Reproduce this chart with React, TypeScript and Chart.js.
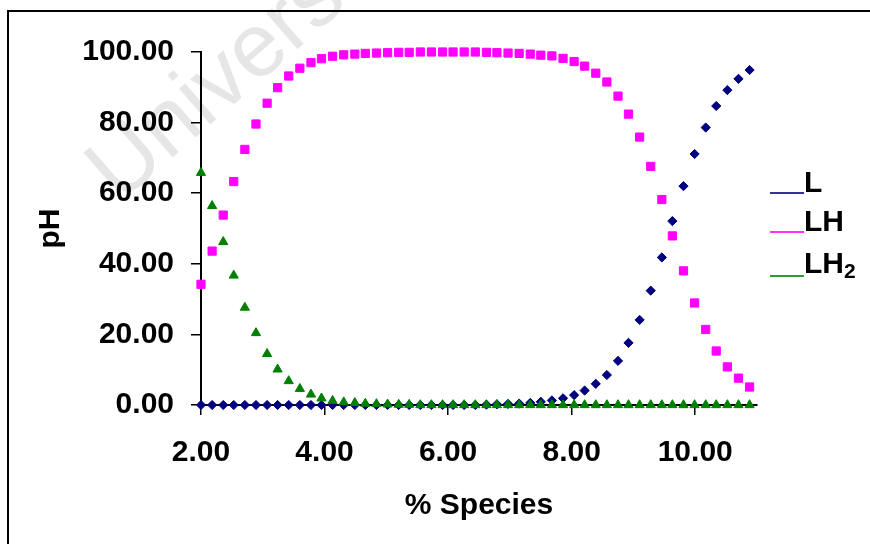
import React, { useEffect, useRef } from 'react';
import { Chart, registerables } from 'chart.js';

Chart.register(...registerables);

const FONT = '"Liberation Sans", Arial, sans-serif';

const pH = [
  2.0, 2.18, 2.36, 2.53, 2.71, 2.89, 3.07, 3.24, 3.42, 3.6, 3.78, 3.95, 4.13, 4.31, 4.49, 4.66, 4.84,
  5.02, 5.2, 5.37, 5.55, 5.73, 5.91, 6.08, 6.26, 6.44, 6.62, 6.79, 6.97, 7.15, 7.33, 7.5, 7.68, 7.86,
  8.04, 8.21, 8.39, 8.57, 8.75, 8.92, 9.1, 9.28, 9.46, 9.63, 9.81, 9.99, 10.17, 10.34, 10.52, 10.7, 10.88,
];

const speciesL = [
  0, 0, 0, 0, 0, 0, 0, 0, 0, 0, 0, 0, 0, 0, 0, 0, 0, 0, 0, 0, 0, 0, 0, 0, 0, 0,
  0.1, 0.2, 0.3, 0.4, 0.6, 0.9, 1.3, 1.9, 2.8, 4.1, 6.0, 8.5, 12.5, 17.6, 24.1, 32.4, 41.8, 52.1,
  62.0, 71.1, 78.6, 84.7, 89.2, 92.4, 94.9,
];

const speciesLH = [
  34.2, 43.6, 53.8, 63.3, 72.4, 79.6, 85.5, 89.9, 93.2, 95.4, 97.0, 98.1, 98.8, 99.2, 99.4, 99.6, 99.7,
  99.8, 99.9, 99.9, 100.0, 100.0, 100.0, 100.0, 100.0, 100.0, 99.9, 99.8, 99.7, 99.6, 99.4, 99.1,
  98.9, 98.2, 97.3, 96.0, 94.0, 91.5, 87.5, 82.4, 75.9, 67.6, 58.2, 47.9, 38.0, 28.9, 21.4, 15.3,
  10.8, 7.6, 5.1,
];

const speciesLH2 = [
  65.8, 56.4, 46.2, 36.7, 27.6, 20.4, 14.5, 10.1, 6.8, 4.6, 3.0, 1.9, 1.2, 0.8, 0.6, 0.4, 0.3, 0.2,
  0.1, 0.1, 0, 0, 0, 0, 0, 0, 0, 0, 0, 0, 0, 0, 0, 0, 0, 0, 0, 0, 0, 0, 0, 0, 0, 0, 0, 0, 0, 0, 0, 0, 0,
];

const seriesNames = ['L', 'LH', 'LH₂'];
const markerColors = ['#000080', '#ff00ff', '#008000'];
const legendLineColors = ['#333399', '#ff33ff', '#339933'];
const xTitle = '% Species';
const yTitle = 'pH';
const watermark = 'University';

export default function App() {
  const ref = useRef<HTMLCanvasElement>(null);

  useEffect(() => {
    const canvas = ref.current;
    if (!canvas) return;
    const mk = (vals: number[]) => pH.map((x, i) => ({ x, y: vals[i] }));
    const font = { family: FONT, size: 30, weight: 'bold' as const };

    const framePlugin = {
      id: 'frame',
      beforeDraw(chart: any) {
        const ctx = chart.ctx;
        ctx.save();
        ctx.fillStyle = '#ffffff';
        ctx.fillRect(0, 0, chart.width, chart.height);
        // watermark
        ctx.translate(119, 204);
        ctx.rotate((-41 * Math.PI) / 180);
        ctx.font = `90px ${FONT}`;
        ctx.fillStyle = '#e6e6e6';
        ctx.textBaseline = 'alphabetic';
        ctx.fillText(watermark, 0, 0);
        ctx.restore();
        ctx.save();
        ctx.fillStyle = '#000';
        ctx.fillRect(7, 10, 2, chart.height);
        ctx.fillRect(7, 10, chart.width, 2);
        ctx.restore();
      },
      afterDraw(chart: any) {
        const ctx = chart.ctx;
        const baselines = [192, 231, 273];
        const lineYs = [193, 232, 276];
        ctx.save();
        chart.data.datasets.forEach((ds: any, i: number) => {
          ctx.fillStyle = legendLineColors[i];
          ctx.fillRect(770, lineYs[i] - 1, 34, 2);
          ctx.fillStyle = '#000';
          ctx.textBaseline = 'alphabetic';
          ctx.textAlign = 'left';
          ctx.font = `bold 30px ${FONT}`;
          const label: string = ds.label;
          const subIdx = label.indexOf('₂');
          if (subIdx >= 0) {
            const main = label.slice(0, subIdx);
            ctx.fillText(main, 804, baselines[i]);
            const w = ctx.measureText(main).width;
            ctx.font = `bold 21px ${FONT}`;
            ctx.fillText('2', 804 + w, baselines[i] + 5);
          } else {
            ctx.fillText(label, 804, baselines[i]);
          }
        });
        ctx.restore();
      },
    };

    const chart = new Chart(canvas, {
      type: 'scatter',
      data: {
        datasets: [
          {
            label: seriesNames[0],
            data: mk(speciesL),
            pointStyle: 'rectRot',
            pointRadius: 4.6,
            backgroundColor: markerColors[0],
            borderColor: markerColors[0],
            borderWidth: 1,
            order: 3,
            clip: false as any,
          },
          {
            label: seriesNames[1],
            data: mk(speciesLH),
            pointStyle: 'rect',
            pointRadius: 5.8,
            backgroundColor: markerColors[1],
            borderColor: markerColors[1],
            borderWidth: 1,
            order: 2,
            clip: false as any,
          },
          {
            label: seriesNames[2],
            data: mk(speciesLH2),
            pointStyle: 'triangle',
            pointRadius: 5.3,
            backgroundColor: markerColors[2],
            borderColor: markerColors[2],
            borderWidth: 1,
            order: 1,
            clip: false as any,
          },
        ],
      },
      options: {
        animation: false,
        responsive: false,
        events: [],
        layout: { padding: { left: 0, top: 52, right: 113, bottom: 0 } },
        plugins: { legend: { display: false }, tooltip: { enabled: false } },
        scales: {
          x: {
            type: 'linear',
            min: 2,
            max: 11,
            afterFit: (s: any) => {
              s.height = 139;
            },
            ticks: {
              stepSize: 2,
              includeBounds: false,
              color: '#000',
              font,
              padding: 20,
              maxRotation: 0,
              autoSkip: false,
              callback: (v: any) => Number(v).toFixed(2),
            },
            grid: { drawOnChartArea: false, drawTicks: true, tickLength: 10, color: '#000', lineWidth: 1.5 },
            border: { display: true, color: '#000', width: 2 },
            title: { display: true, text: xTitle, color: '#000', font, padding: { top: 0, bottom: 20 } },
          },
          y: {
            type: 'linear',
            min: 0,
            max: 100,
            afterFit: (s: any) => {
              s.width = 201;
            },
            ticks: {
              stepSize: 20,
              color: '#000',
              font,
              padding: 17,
              callback: (v: any) => Number(v).toFixed(2),
            },
            grid: { drawOnChartArea: false, drawTicks: true, tickLength: 10, color: '#000', lineWidth: 1.5 },
            border: { display: true, color: '#000', width: 2 },
            title: { display: true, text: yTitle, color: '#000', font, padding: { top: 33, bottom: 0 } },
          },
        },
      } as any,
      plugins: [framePlugin],
    });
    return () => chart.destroy();
  }, []);

  return (
    <div style={{ position: 'absolute', left: 0, top: 0, width: 870, height: 544, background: '#fff', overflow: 'hidden' }}>
      <canvas ref={ref} width={870} height={544} style={{ display: 'block', width: 870, height: 544 }} />
    </div>
  );
}
